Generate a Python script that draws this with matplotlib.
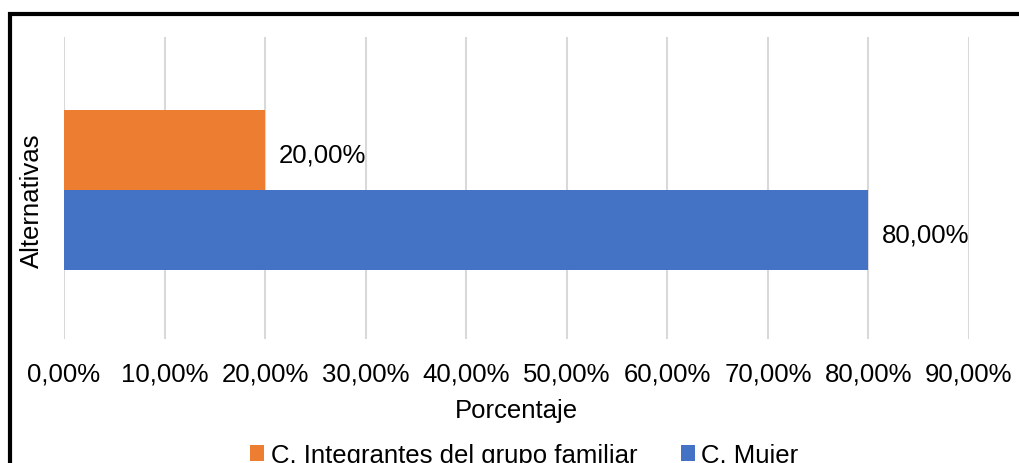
import matplotlib.pyplot as plt
from matplotlib.patches import Rectangle
from matplotlib.ticker import FuncFormatter

plt.rcParams['font.family'] = ['Liberation Sans', 'DejaVu Sans']

# data
series = ['C. Integrantes del grupo familiar', 'C. Mujer']
values = [0.20, 0.80]
colors = ['#ED7D31', '#4472C4']
offsets = [0.252, -0.278]

fs = 18.5

fig = plt.figure(figsize=(10.2, 4.64), dpi=100)
ax = fig.add_axes([64 / 1020, 1 - 340 / 464, (969 - 64) / 1020, (340 - 38) / 464])

for name, v, c, off in zip(series, values, colors, offsets):
    ax.barh(off, v, height=0.53, color=c, label=name, zorder=2)
    ax.annotate(f'{v * 100:.2f}%'.replace('.', ','), (v, off),
                xytext=(10, -3), textcoords='offset points',
                va='center', ha='left', fontsize=fs)

ax.set_xlim(0, 0.9)
ax.set_ylim(-1, 1)
ax.set_xticks([i / 10 for i in range(10)])
ax.xaxis.set_major_formatter(FuncFormatter(lambda x, p: f'{x * 100:.2f}%'.replace('.', ',')))
ax.set_yticks([])
ax.grid(axis='x', color='#d9d9d9', linewidth=1.5, zorder=0)
for s in ax.spines.values():
    s.set_visible(False)
ax.tick_params(axis='x', length=0, labelsize=fs, pad=16)
ax.set_xlabel('Porcentaje', fontsize=fs, labelpad=9)
ax.set_ylabel('Alternativas', fontsize=fs)
ax.yaxis.set_label_coords(-0.022, 0.46)

fig.legend(loc='center', bbox_to_anchor=(0.514, 1 - 456 / 464), ncol=2,
           frameon=False, fontsize=fs, handlelength=0.55, handleheight=0.55,
           handletextpad=0.25, columnspacing=1.7)

# outer border of chart area
fig.patches.append(Rectangle((10 / 1020, -0.1), 1.2, 1.1 - 15 / 464,
                             transform=fig.transFigure, fill=False,
                             edgecolor='black', linewidth=3, clip_on=False))

fig.savefig('out.png', dpi=100)
